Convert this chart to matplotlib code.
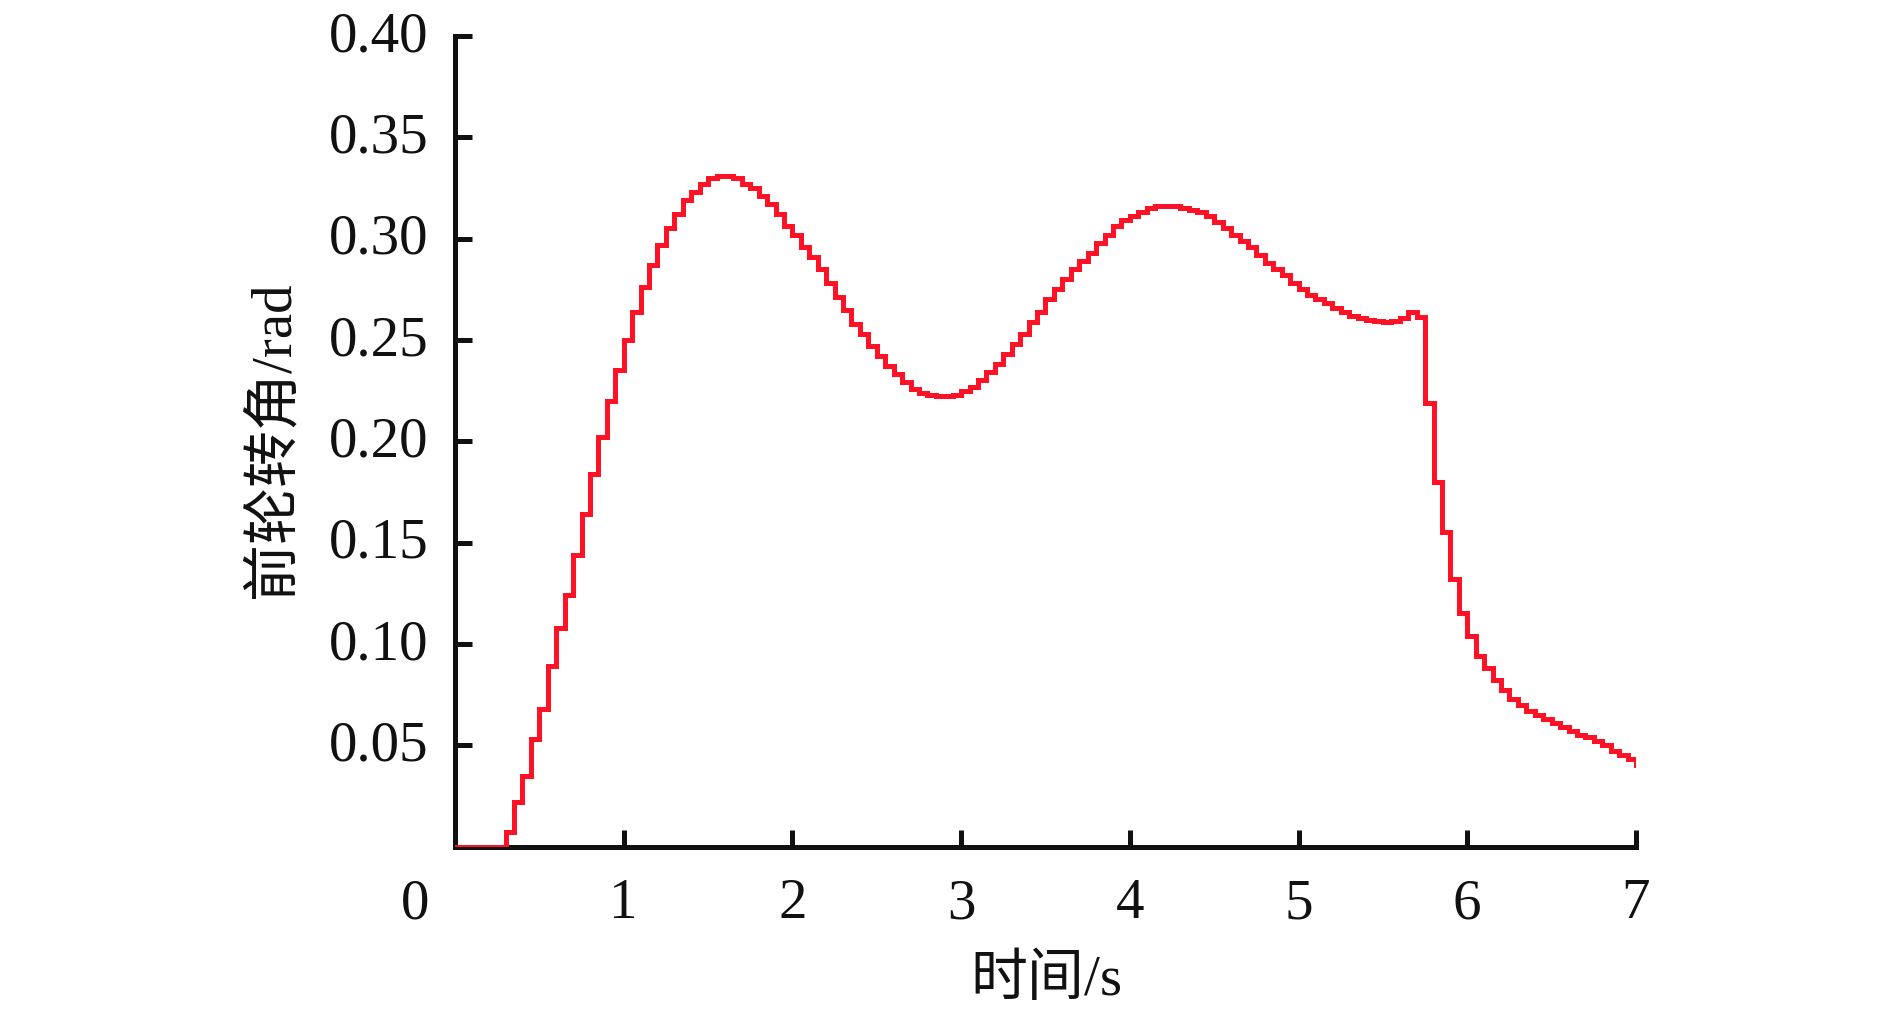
import numpy as np
import matplotlib
matplotlib.use("Agg")
import matplotlib.pyplot as plt
import matplotlib.transforms as mtransforms

time_s = [round(0.05 * i, 2) for i in range(141)]
steer_rad = [
    0.000, 0.000, 0.000, 0.000, 0.000, 0.000, 0.007, 0.022, 0.035, 0.053,   # 0.00-0.45
    0.068, 0.089, 0.108, 0.124, 0.144, 0.164, 0.184, 0.202, 0.220, 0.235,   # 0.50-0.95
    0.250, 0.264, 0.276, 0.287, 0.297, 0.305, 0.312, 0.319, 0.323, 0.327,   # 1.00-1.45
    0.330, 0.331, 0.331, 0.330, 0.327, 0.325, 0.321, 0.317, 0.312, 0.306,   # 1.50-1.95
    0.302, 0.296, 0.291, 0.285, 0.278, 0.271, 0.265, 0.258, 0.253, 0.247,   # 2.00-2.45
    0.242, 0.237, 0.233, 0.229, 0.226, 0.224, 0.223, 0.2225, 0.2225, 0.223, # 2.50-2.95
    0.225, 0.227, 0.230, 0.234, 0.238, 0.243, 0.248, 0.253, 0.259, 0.264,   # 3.00-3.45
    0.270, 0.275, 0.280, 0.285, 0.289, 0.293, 0.298, 0.302, 0.306, 0.309,   # 3.50-3.95
    0.311, 0.313, 0.315, 0.316, 0.316, 0.316, 0.315, 0.314, 0.313, 0.311,   # 4.00-4.45
    0.308, 0.305, 0.302, 0.299, 0.296, 0.292, 0.288, 0.285, 0.282, 0.278,   # 4.50-4.95
    0.275, 0.272, 0.270, 0.268, 0.266, 0.264, 0.262, 0.261, 0.260, 0.2595,  # 5.00-5.45
    0.259, 0.2595, 0.261, 0.264, 0.2615, 0.219, 0.180, 0.155, 0.132, 0.115, # 5.50-5.95
    0.104, 0.094, 0.088, 0.082, 0.077, 0.073, 0.070, 0.067, 0.065, 0.063,   # 6.00-6.45
    0.061, 0.059, 0.057, 0.055, 0.054, 0.052, 0.050, 0.047, 0.045, 0.043,   # 6.50-6.95
    0.040,                                                                  # 7.00
]
x_ticks = [1, 2, 3, 4, 5, 6, 7]
x_ticklabels = ["1", "2", "3", "4", "5", "6", "7"]
y_ticks = [0.05, 0.10, 0.15, 0.20, 0.25, 0.30, 0.35, 0.40]
y_ticklabels = ["0.05", "0.10", "0.15", "0.20", "0.25", "0.30", "0.35", "0.40"]
x_label = "时间/s"
y_label = "前轮转角/rad"
origin_label = "0"

FONTS = ["Liberation Serif", "Noto Sans CJK SC", "DejaVu Sans"]
plt.rcParams["font.family"] = FONTS
FS = 41

fig = plt.figure(figsize=(18.9, 10.15), dpi=100)
ax = fig.add_axes([455 / 1890, 168.5 / 1015, (1636 - 455) / 1890, (846.5 - 36) / 1015])

ax.plot(time_s, steer_rad, drawstyle="steps-post", color="#ff1226", lw=3.6,
        solid_joinstyle="miter", zorder=3)

ax.set_xlim(0, 7)
ax.set_ylim(0, 0.40)

for s in ["top", "right"]:
    ax.spines[s].set_visible(False)
for s in ["left", "bottom"]:
    ax.spines[s].set_linewidth(3.6)
    ax.spines[s].set_color("#111111")
    ax.spines[s].set_capstyle("projecting")

ax.set_xticks(x_ticks)
ax.set_xticklabels(x_ticklabels)
ax.set_yticks(y_ticks)
ax.set_yticklabels(y_ticklabels)
ax.tick_params(axis="both", direction="in", length=12, width=3.6, color="#111111",
               labelsize=FS, labelcolor="#111111")
ax.tick_params(axis="x", pad=23)
ax.tick_params(axis="y", pad=19)

# nudge y tick labels slightly upward
shift = mtransforms.ScaledTranslation(0, 3.5 / 72, fig.dpi_scale_trans)
for lab in ax.get_yticklabels():
    lab.set_transform(lab.get_transform() + shift)

ax.annotate(origin_label, xy=(0, 0), xycoords="data", xytext=(-29, -23),
            textcoords="offset points", ha="center", va="top",
            fontsize=FS, color="#111111")

fig.text(1046 / 1890, 1 - 981 / 1015, x_label, ha="center", va="center",
         fontsize=FS, color="#111111")
fig.text(273 / 1890, 1 - 440 / 1015, y_label, ha="center", va="center",
         rotation=90, fontsize=FS, color="#111111")

fig.savefig("out.png", dpi=100, facecolor="white")
